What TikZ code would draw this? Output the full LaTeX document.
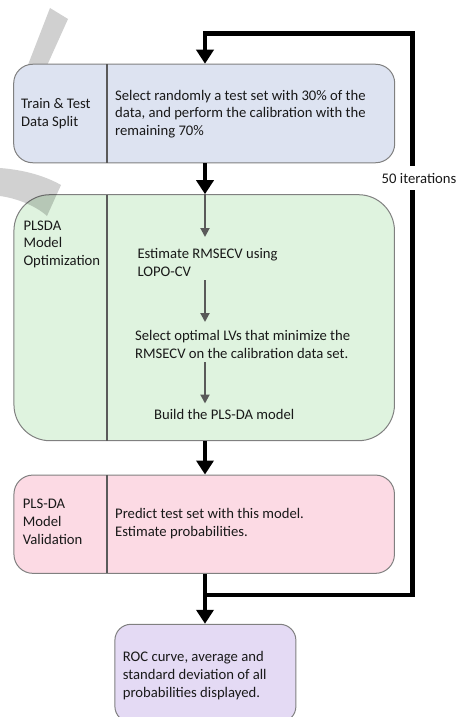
\documentclass[tikz,border=0pt]{standalone}
\usepackage{fontspec}
\setmainfont{Carlito}
\usetikzlibrary{arrows.meta}
\definecolor{bluefill}{RGB}{221,227,241}
\definecolor{greenfill}{RGB}{223,243,223}
\definecolor{pinkfill}{RGB}{252,218,228}
\definecolor{purplefill}{RGB}{228,218,244}
\definecolor{boxline}{RGB}{128,128,128}
\definecolor{divline}{RGB}{90,90,90}
\definecolor{wmark}{RGB}{208,208,208}
\definecolor{txt}{RGB}{25,25,25}
\begin{document}
\begin{tikzpicture}[x=1pt,y=-1pt,
  box/.style={draw=boxline,line width=1pt,inner sep=0pt},
  divider/.style={draw=divline,line width=1.6pt},
  lbl/.style={anchor=base west,align=left,inner sep=0pt,text=txt,
    font=\fontsize{14.67pt}{17.9pt}\selectfont},
  bigarrow/.style={line width=4.5pt,-{Triangle[width=17pt,length=14pt]}},
  smallarrow/.style={draw=divline,line width=2pt,-{Triangle[width=9pt,length=9pt]}}]
\useasboundingbox (0,0) rectangle (457,717);
% watermark fragment behind box 1
\fill[wmark] (50,8) -- (68,19) -- (45,70) -- (26,70) -- cycle;
% boxes
\node[box,fill=bluefill,rounded corners=19pt,minimum width=381pt,minimum height=98.5pt] (b1) at (204.2,113.5) {};
\node[box,fill=greenfill,rounded corners=36pt,minimum width=380.5pt,minimum height=246pt] (b2) at (204.2,317.7) {};
\node[box,fill=pinkfill,rounded corners=19pt,minimum width=380.5pt,minimum height=98.3pt] (b3) at (204.2,524.2) {};
\node[box,fill=purplefill,rounded corners=16pt,minimum width=181pt,minimum height=98pt] (b4) at (205.4,673.3) {};
% watermark fragment over box 2
\fill[black,opacity=0.18] (0,168) .. controls (25,170) and (45,176) .. (61,185) -- (47,216) .. controls (35,205) and (15,198) .. (0,196) -- cycle;
% dividers
\draw[divider] (106.7,64.3) -- (106.7,162.7);
\draw[divider] (106.7,194.7) -- (106.7,440.7);
\draw[divider] (106.7,475) -- (106.7,573.3);
% texts (base = baseline of last line)
\node[lbl] (l1) at (21,126.2) {Train \& Test\\Data Split};
\node[lbl] (r1) at (115,135.8) {Select randomly a test set with 30\% of the\\data, and perform the calibration with the\\remaining 70\%};
\node[lbl] (l2) at (23.3,265.8) {PLSDA\\Model\\Optimization};
\node[lbl] (t1) at (137.3,276.2) {Estimate RMSECV using\\LOPO-CV};
\node[lbl] (t2) at (135,358.6) {Select optimal LVs that minimize the\\RMSECV on the calibration data set.};
\node[lbl] (t3) at (154,419.3) {Build the PLS-DA model};
\node[lbl] (l3) at (22.7,544.1) {PLS-DA\\Model\\Validation};
\node[lbl] (r3) at (115,536.2) {Predict test set with this model.\\Estimate probabilities.};
\node[lbl] (r4) at (122.7,697.5) {ROC curve, average and\\standard deviation of all\\probabilities displayed.};
% inner arrows
\coordinate (a1e) at (205,237);
\coordinate (a2s) at (205,280);
\coordinate (a2e) at (205,322);
\coordinate (a3s) at (205,362);
\coordinate (a3e) at (205,403.5);
\draw[smallarrow] (b2.north -| a1e) -- (a1e);
\draw[smallarrow] (a2s) -- (a2e);
\draw[smallarrow] (a3s) -- (a3e);
% main arrows
\draw[bigarrow] (b1.south -| a1e) -- (b2.north -| a1e);
\draw[bigarrow] (b2.south -| a1e) -- (b3.north -| a1e);
\draw[bigarrow] (b3.south -| a1e) -- (b4.north -| a1e);
% loop
\coordinate (j) at (205,595);
\coordinate (lr) at (412.3,33.3);
\draw[bigarrow] (j) -| (lr) -| (b1.north -| a1e);
\node[fill=white,anchor=base west,inner xsep=1pt,inner ysep=7pt,text=txt,
  font=\fontsize{14.67pt}{17.9pt}\selectfont] (it) at (380.5,183.3) {50 iterations};
\end{tikzpicture}
\end{document}
